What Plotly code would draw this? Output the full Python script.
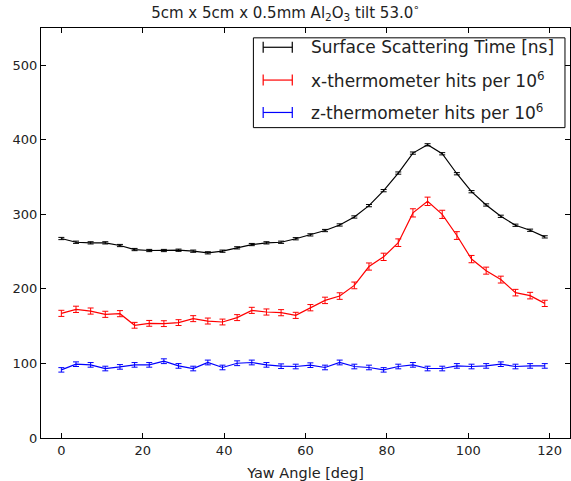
import plotly.graph_objects as go

yaw = [round(3.6 * i, 1) for i in range(34)]

scatter_time = [267.6, 262.6, 261.8, 261.8, 258.2, 252.8, 251.5, 251.5, 251.9, 250.6,
                248.4, 250.6, 255.1, 259.5, 261.8, 262.6, 267.3, 272.5, 278.3, 285.8,
                296.5, 311.7, 331.8, 355.4, 382.2, 393.3, 381.3, 354.5, 330.4, 312.6,
                297.4, 285.4, 278.7, 269.8]
scatter_err = [1.5] * 34

x_hits = [167.2, 172.6, 170.3, 165.9, 166.8, 151.2, 153.8, 153.4, 154.8, 160.1,
          156.9, 155.6, 161.5, 171.2, 169.0, 168.1, 164.5, 174.8, 184.6, 190.4,
          204.7, 230.0, 243.0, 262.0, 302.0, 317.5, 300.0, 271.6, 240.0, 224.5,
          212.5, 195.0, 191.0, 180.6]
x_err = [4.1, 4.2, 4.1, 4.1, 4.1, 3.9, 3.9, 3.9, 3.9, 4.0,
         4.0, 3.9, 4.0, 4.1, 4.1, 4.1, 4.1, 4.2, 4.3, 4.4,
         4.5, 4.8, 4.9, 5.1, 5.5, 5.6, 5.5, 5.2, 4.9, 4.7,
         4.6, 4.4, 4.4, 4.2]

z_hits = [91.4, 99.0, 98.1, 93.2, 95.4, 98.1, 98.1, 103.0, 96.7, 93.2,
          101.3, 94.6, 100.3, 101.3, 98.1, 96.3, 95.9, 97.7, 94.6, 101.3,
          95.9, 94.6, 91.4, 95.9, 98.1, 93.2, 93.2, 96.7, 95.9, 96.7,
          99.0, 95.9, 96.7, 96.7]
z_err = [3.0, 3.1, 3.1, 3.1, 3.1, 3.1, 3.1, 3.2, 3.1, 3.1,
         3.2, 3.1, 3.2, 3.2, 3.1, 3.1, 3.1, 3.1, 3.1, 3.2,
         3.1, 3.1, 3.0, 3.1, 3.1, 3.1, 3.1, 3.1, 3.1, 3.1,
         3.1, 3.1, 3.1, 3.1]

series_names = ["Surface Scattering Time [ns]",
                "x-thermometer hits per 10<sup>6</sup>",
                "z-thermometer hits per 10<sup>6</sup>"]
series_colors = ["black", "#ff0000", "#0000ff"]

fig = go.Figure()
for vals, errs, col, name in zip([scatter_time, x_hits, z_hits],
                                 [scatter_err, x_err, z_err],
                                 series_colors, series_names):
    fig.add_trace(go.Scatter(
        x=yaw, y=vals, mode="lines", name=name,
        line=dict(color=col, width=1.2),
        error_y=dict(type="data", array=errs, visible=True, color=col,
                     thickness=1, width=3),
        showlegend=False,
    ))

# manual legend (matplotlib style)
x0, x1 = 0.4015, 0.9905
y0, y1 = 0.757, 0.976
fig.add_shape(type="rect", xref="paper", yref="paper", x0=x0, x1=x1, y0=y0, y1=y1,
              line=dict(color="black", width=1), fillcolor="white", layer="above")
rows = [0.953, 0.873, 0.794]
gx0, gx1 = 0.420, 0.475
cap = 0.0134
for ry, col, name in zip(rows, series_colors, series_names):
    fig.add_shape(type="line", xref="paper", yref="paper", x0=gx0, x1=gx1, y0=ry, y1=ry,
                  line=dict(color=col, width=1.2), layer="above")
    for gx in (gx0, gx1):
        fig.add_shape(type="line", xref="paper", yref="paper", x0=gx, x1=gx,
                      y0=ry - cap, y1=ry + cap, line=dict(color=col, width=1.2), layer="above")
    fig.add_annotation(xref="paper", yref="paper", x=0.507, y=ry, text=name,
                       showarrow=False, xanchor="left", yanchor="middle",
                       font=dict(size=17, color="#222222"))

fig.update_layout(
    width=571, height=481,
    margin=dict(l=41, r=1, t=28, b=43),
    paper_bgcolor="white", plot_bgcolor="white",
    font=dict(family="DejaVu Sans", size=13, color="#222222"),
    title=dict(text="5cm x 5cm x 0.5mm Al<sub>2</sub>O<sub>3</sub> tilt 53.0<sup>∘</sup>",
               x=0.5, xanchor="center", y=0.985, yanchor="top",
               font=dict(size=15)),
)
fig.update_xaxes(range=[-5, 125], tickvals=[0, 20, 40, 60, 80, 100, 120],
                 ticks="inside", ticklen=5, tickcolor="black",
                 showline=True, linecolor="black", linewidth=1, mirror="ticks",
                 showgrid=False, zeroline=False,
                 title=dict(text="Yaw Angle [deg]", standoff=13, font=dict(size=14.5)))
fig.update_yaxes(range=[0, 550], tickvals=[0, 100, 200, 300, 400, 500],
                 ticks="inside", ticklen=5, tickcolor="black",
                 showline=True, linecolor="black", linewidth=1, mirror="ticks",
                 showgrid=False, zeroline=False)

fig.write_html("out.html", config={"displayModeBar": False},
               post_script="document.body.style.margin='0';document.body.style.overflow='hidden';")
